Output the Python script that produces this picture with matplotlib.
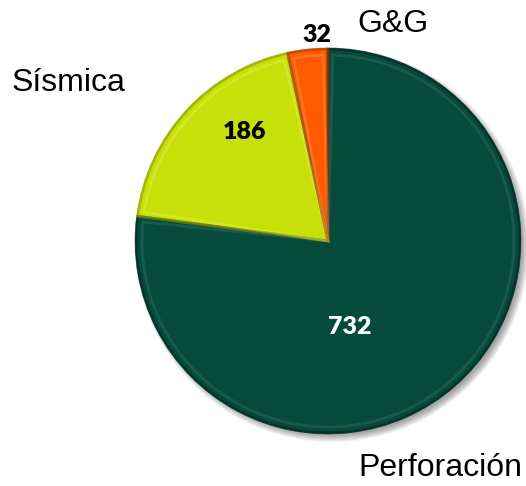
import matplotlib.pyplot as plt
from matplotlib.patches import Circle, Wedge

categorias = ['Perforación', 'Sísmica', 'G&G']
valores = [732, 186, 32]
colores = ['#064a3c', '#c8e00a', '#ff5a00']
brillo = ['#3f7a6c', '#e8f560', '#ffa060']
sombra = ['#02261f', '#8a9a00', '#a83a00']

W, H = 526, 486
fig = plt.figure(figsize=(W / 100, H / 100), dpi=100)
ax = fig.add_axes([0, 0, 1, 1])

cx, cy, r = 328, H - 241, 193

# soft drop shadow under the pie
for i in range(8):
    ax.add_patch(Circle((cx + 4, cy - 4), r + 4 - i, color='#000000',
                        alpha=0.05, lw=0, zorder=0))

wedges, _ = ax.pie(valores, colors=colores, startangle=90, counterclock=False,
                   center=(cx, cy), radius=r, frame=True,
                   wedgeprops=dict(linewidth=0))

# bevel: dark outer rim and a faint highlight just inside it
for w, b, s in zip(wedges, brillo, sombra):
    t1, t2 = w.theta1, w.theta2
    ax.add_patch(Wedge((cx, cy), r - 1, t1, t2, fill=False,
                       edgecolor=s, lw=2, alpha=0.6, zorder=3))
    ax.add_patch(Wedge((cx, cy), r - 7, t1 + 1.5, t2 - 1.5, fill=False,
                       edgecolor=b, lw=2, alpha=0.35, zorder=3))

ax.set_xlim(0, W)
ax.set_ylim(0, H)
ax.set_aspect('equal')
ax.axis('off')

num = dict(family='Lato', weight='heavy', fontsize=18, ha='center', va='center')
ax.text(350, H - 327, str(valores[0]), color='white', **num)
ax.text(245, H - 132, str(valores[1]), color='black', **num)
ax.text(317, H - 35, str(valores[2]), color='black', **num)

cat = dict(family='Liberation Sans', fontsize=23, ha='center', va='center', color='black')
ax.text(440, H - 468, categorias[0], **cat)
ax.text(68, H - 83, categorias[1], **cat)
ax.text(393, H - 24, categorias[2], **cat)

fig.savefig('out.png', dpi=100)
